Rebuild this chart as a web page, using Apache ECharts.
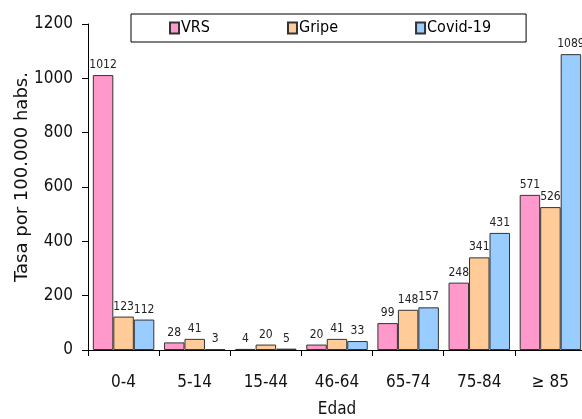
<!DOCTYPE html>
<html>
<head>
<meta charset="utf-8">
<script src="https://cdn.jsdelivr.net/npm/echarts@6/dist/echarts.min.js"></script>
<style>
html,body{margin:0;padding:0;background:#fff;}
#chart{width:582px;height:419px;}
</style>
</head>
<body>
<div id="chart"></div>
<script>
// Tasas por grupo de edad
const ageGroups = ['0-4', '5-14', '15-44', '46-64', '65-74', '75-84', '\u2265 85'];
const vrs = [1012, 28, 4, 20, 99, 248, 571];
const gripe = [123, 41, 20, 41, 148, 341, 526];
const covid = [112, 3, 5, 33, 157, 431, 1089];
const yTicks = [0, 200, 400, 600, 800, 1000, 1200];

const FONT = '"DejaVu Sans Condensed", "DejaVu Sans", sans-serif';

function barSeries(name, data, color) {
  return {
    name: name,
    type: 'bar',
    data: data,
    barGap: 0,
    barCategoryGap: '13.6%',
    itemStyle: { color: color, borderColor: '#333', borderWidth: 1 },
    label: {
      show: true,
      position: 'top',
      distance: 4,
      color: '#222',
      fontFamily: FONT,
      fontSize: 12
    }
  };
}

const chart = echarts.init(document.getElementById('chart'));
chart.setOption({
  animation: false,
  backgroundColor: '#fff',
  textStyle: { fontFamily: FONT },
  legend: {
    left: 131,
    top: 14,
    padding: [4, 35, 4, 38],
    borderColor: '#000',
    borderWidth: 1,
    itemWidth: 9,
    itemHeight: 11,
    itemGap: 77,
    icon: 'rect',
    textStyle: { fontFamily: FONT, fontSize: 16, lineHeight: 20, color: '#000', padding: [0, 0, 0, -3] },
    data: ['VRS', 'Gripe', 'Covid-19']
  },
  grid: { left: 88, top: 24, bottom: 69, width: 498, outerBoundsMode: 'none', containLabel: false },
  xAxis: {
    type: 'category',
    data: ageGroups,
    name: 'Edad',
    nameLocation: 'middle',
    nameGap: 51,
    nameMoveOverlap: false,
    nameTextStyle: { fontFamily: FONT, fontSize: 17, color: '#111' },
    axisLine: { lineStyle: { color: '#000', width: 1 } },
    axisTick: { show: true, length: 6, lineStyle: { color: '#000' } },
    axisLabel: { margin: 24, fontFamily: FONT, fontSize: 17, color: '#111' }
  },
  yAxis: {
    type: 'value',
    min: yTicks[0],
    max: yTicks[yTicks.length - 1],
    interval: 200,
    name: 'Tasa por 100.000 habs.',
    nameLocation: 'middle',
    nameGap: 57,
    nameMoveOverlap: false,
    nameTextStyle: { fontFamily: '"DejaVu Sans", sans-serif', fontSize: 18, color: '#111', padding: [0, 0, 0, 20] },
    axisLine: { show: true, lineStyle: { color: '#000', width: 1 } },
    axisTick: { show: true, length: 6, lineStyle: { color: '#000' } },
    splitLine: { show: false },
    axisLabel: { margin: 15, fontFamily: FONT, fontSize: 17, color: '#111', formatter: function (v) { return String(v); } }
  },
  series: [
    barSeries('VRS', vrs, '#FF99CC'),
    barSeries('Gripe', gripe, '#FFCC99'),
    barSeries('Covid-19', covid, '#99CCFF')
  ]
});
</script>
</body>
</html>
